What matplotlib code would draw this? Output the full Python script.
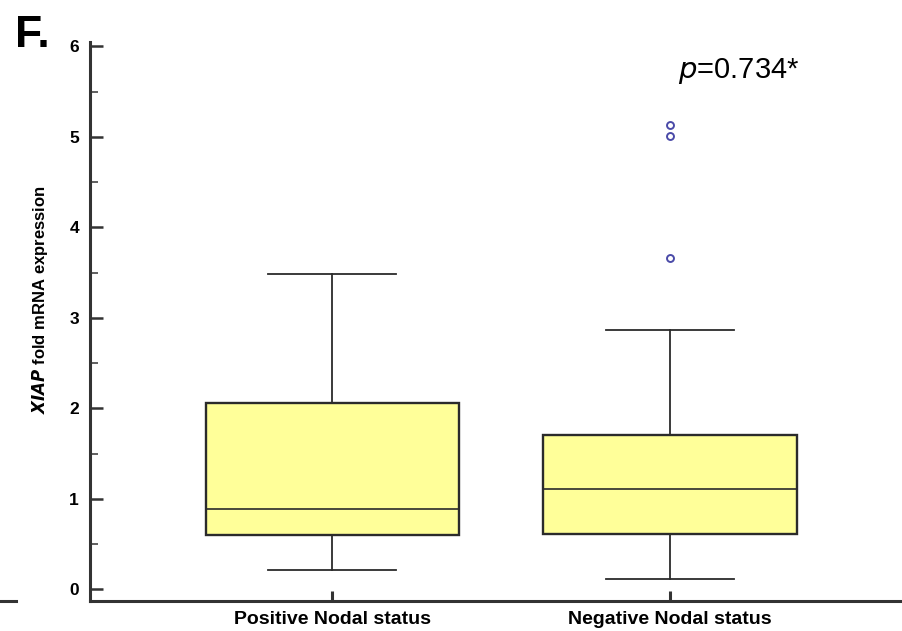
import matplotlib
matplotlib.use("Agg")
import matplotlib.pyplot as plt
from matplotlib.ticker import MultipleLocator

plt.rcParams['font.family'] = ['Liberation Sans', 'DejaVu Sans']

# values
groups = ['Positive Nodal status', 'Negative Nodal status']
whislo = [0.21, 0.11]
q1 = [0.60, 0.61]
med = [0.89, 1.11]
q3 = [2.06, 1.71]
whishi = [3.49, 2.87]
fliers = [[], [5.13, 5.01, 3.66]]

stats = []
for i in range(len(groups)):
    stats.append(dict(label=groups[i], whislo=whislo[i], q1=q1[i], med=med[i],
                      q3=q3[i], whishi=whishi[i], fliers=fliers[i]))

edge = '#2b2b2b'
fig = plt.figure(figsize=(9.02, 6.31), dpi=100)
ax = fig.add_axes([0.0998, 0.0475, 0.9002, 0.886])

ax.bxp(stats, positions=[1, 2], widths=0.75, patch_artist=True,
       boxprops=dict(facecolor='#ffff99', edgecolor=edge, linewidth=1.7),
       medianprops=dict(color=edge, linewidth=1.2),
       whiskerprops=dict(color=edge, linewidth=1.3),
       capprops=dict(color=edge, linewidth=1.3), capwidths=0.38,
       flierprops=dict(marker='o', markersize=5, markerfacecolor='none',
                       markeredgecolor='#4a4aa8', markeredgewidth=1.4))

ax.set_xlim(0.283, 2.687)
ax.set_ylim(-0.13, 6.05)
ax.yaxis.set_major_locator(MultipleLocator(1))
ax.yaxis.set_minor_locator(MultipleLocator(0.5))

for s in ['top', 'right']:
    ax.spines[s].set_visible(False)
for s in ['left', 'bottom']:
    ax.spines[s].set_color('#333333')
    ax.spines[s].set_linewidth(2.2)

ax.tick_params(axis='y', which='major', direction='in', length=9, width=1.8,
               color='#333333', pad=8, labelsize=12.5)
ax.tick_params(axis='y', which='minor', direction='in', length=6, width=1.2,
               color='#444444')
ax.tick_params(axis='x', direction='in', length=7, width=2.2, color='#333333',
               pad=7, labelsize=14)
for lab in ax.get_yticklabels() + ax.get_xticklabels():
    lab.set_fontweight('bold')

ax.set_ylabel(r'$\bfit{XIAP}$ fold mRNA expression', fontsize=12,
              fontweight='bold')
ax.yaxis.set_label_coords(-0.049, 0.54)

fig.text(0.017, 0.9255, 'F.', fontsize=32, fontweight='bold')
fig.text(0.752, 0.876, r'$\it{p}$=0.734*', fontsize=21)

# short stub of the axis line left of the y axis
fig.add_artist(plt.Line2D([0, 0.018], [0.0475, 0.0475], color='#333333', lw=2.2))

fig.savefig('out.png', dpi=100)
